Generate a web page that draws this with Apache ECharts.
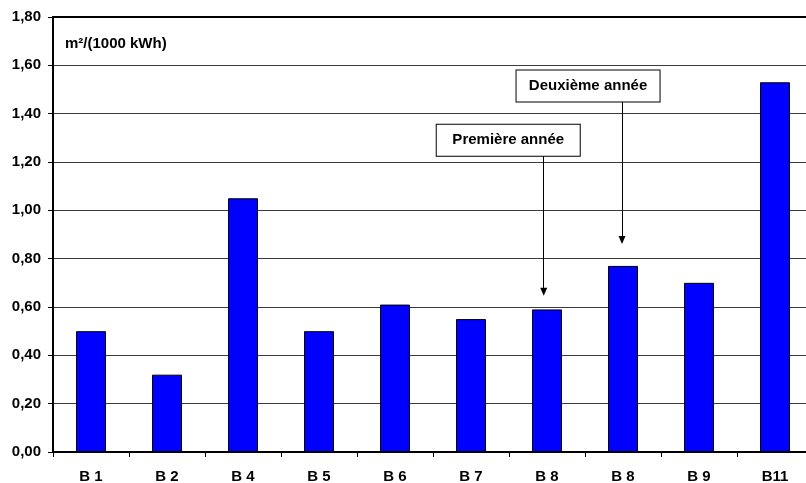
<!DOCTYPE html>
<html>
<head>
<meta charset="utf-8">
<script src="https://cdn.jsdelivr.net/npm/echarts@6/dist/echarts.min.js"></script>
<style>
  html, body { margin: 0; padding: 0; background: #fff; }
  #chart { width: 806px; height: 483px; }
</style>
</head>
<body>
<div id="chart"></div>
<script>
// Buildings and surface per 1000 kWh
const categories = ['B 1', 'B 2', 'B 4', 'B 5', 'B 6', 'B 7', 'B 8', 'B 8', 'B 9', 'B11'];
const values = [0.50, 0.32, 1.05, 0.50, 0.61, 0.55, 0.59, 0.77, 0.70, 1.53];

// Y axis range
const yMin = 0;
const yMax = 1.8;
const yStep = 0.2;
const unitLabel = 'm²/(1000 kWh)';

// Callouts (x on a 0..10 helper axis spanning the categories)
const calloutTexts = ['Première année', 'Deuxième année'];
const calloutX = [5.99, 7.04];
const calloutY = [1.29, 1.514];
const arrowX = [6.457, 7.487];
const arrowFromY = [1.233, 1.449];
const arrowToY = [0.663, 0.877];

const FONT = '"Liberation Sans", Arial, sans-serif';

const chart = echarts.init(document.getElementById('chart'), null, { renderer: 'canvas' });

const calloutData = calloutTexts.map((t, i) => ({ name: t, value: [calloutX[i], calloutY[i]] }));
const arrowData = calloutTexts.map((t, i) => [
  { coord: [arrowX[i], arrowFromY[i]] },
  { coord: [arrowX[i], arrowToY[i]] }
]);

chart.setOption({
  animation: false,
  backgroundColor: '#ffffff',
  grid: { left: 53, top: 17, width: 760, height: 435, containLabel: false, outerBoundsMode: 'none' },
  graphic: [{
    type: 'text',
    left: 65,
    top: 36,
    style: { text: unitLabel, font: 'bold 15px ' + FONT, fill: '#000' }
  }],
  xAxis: [{
    type: 'category',
    data: categories,
    boundaryGap: true,
    axisLine: { show: true, lineStyle: { color: '#000', width: 2 } },
    axisTick: { show: true, alignWithLabel: false, length: 5, lineStyle: { color: '#000', width: 1 } },
    axisLabel: { interval: 0, margin: 17, color: '#000', fontWeight: 'bold', fontSize: 15, fontFamily: FONT },
    splitLine: { show: false }
  }, {
    type: 'value',
    position: 'top',
    min: 0,
    max: 10,
    axisLine: { show: true, onZero: false, lineStyle: { color: '#000', width: 2 } },
    axisTick: { show: false },
    axisLabel: { show: false },
    splitLine: { show: false }
  }],
  yAxis: {
    type: 'value',
    min: yMin,
    max: yMax,
    interval: yStep,
    axisLine: { show: true, lineStyle: { color: '#000', width: 2 } },
    axisTick: { show: true, length: 5, lineStyle: { color: '#000', width: 1 } },
    axisLabel: {
      margin: 12,
      color: '#000',
      fontWeight: 'bold',
      fontSize: 15,
      fontFamily: FONT,
      formatter: v => v.toFixed(2).replace('.', ',')
    },
    splitLine: { show: true, lineStyle: { color: '#3a3a3a', width: 1 } }
  },
  series: [{
    type: 'bar',
    data: values,
    barWidth: 30,
    itemStyle: { color: '#0000ff', borderColor: '#000', borderWidth: 1 },
    silent: true
  }, {
    type: 'scatter',
    xAxisIndex: 1,
    data: calloutData,
    symbol: 'rect',
    symbolSize: 1,
    z: 5,
    silent: true,
    itemStyle: { color: '#fff', opacity: 1 },
    label: {
      show: true,
      position: 'inside',
      formatter: p => p.name,
      color: '#000',
      fontWeight: 'bold',
      fontSize: 15,
      fontFamily: FONT,
      backgroundColor: '#fff',
      borderColor: '#000',
      borderWidth: 1,
      width: 143,
      height: 17,
      lineHeight: 17,
      padding: [7, 0],
      align: 'center',
      verticalAlign: 'middle'
    },
    markLine: {
      silent: true,
      z: 4,
      symbol: ['none', 'triangle'],
      symbolSize: [7, 8],
      label: { show: false },
      lineStyle: { color: '#000', width: 1, type: 'solid' },
      data: arrowData
    }
  }]
});
</script>
</body>
</html>
